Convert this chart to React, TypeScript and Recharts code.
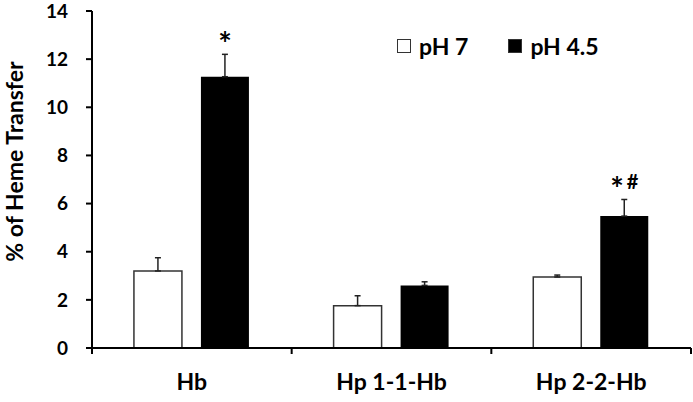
import React from 'react';
import { BarChart, Bar, XAxis, YAxis, ErrorBar, LabelList, Legend } from 'recharts';

const categories = ['Hb', 'Hp 1-1-Hb', 'Hp 2-2-Hb'];
const ph7 = [3.2, 1.76, 2.95];
const ph7Err = [0.55, 0.41, 0.08];
const ph45 = [11.27, 2.6, 5.48];
const ph45Err = [0.93, 0.15, 0.69];
const marks = ['*', '', '*#'];
const yTicks = [0, 2, 4, 6, 8, 10, 12, 14];
const seriesNames = ['pH 7', 'pH 4.5'];
const seriesFills = ['#ffffff', '#000000'];

const data = categories.map((name, i) => ({
  name,
  ph7: ph7[i],
  ph7Err: [0, ph7Err[i]],
  ph45: ph45[i],
  ph45Err: [0, ph45Err[i]],
  mark: marks[i],
}));

const FONT = 'Lato, "Open Sans", sans-serif';
const X_TICK_SIZE = 6;
const X_TICK_MARGIN = 20;

// category labels, plus tick marks on the category boundaries
const renderXTick = (props: any) => {
  const { x, y, payload, width, visibleTicksCount, index } = props;
  const step = width / visibleTicksCount;
  const axisY = y - X_TICK_SIZE - X_TICK_MARGIN;
  const left = x - step / 2;
  const right = x + step / 2;
  return (
    <g>
      <line x1={left} x2={left} y1={axisY} y2={axisY + X_TICK_SIZE} stroke="#000" strokeWidth={2} />
      {index === visibleTicksCount - 1 && (
        <line x1={right} x2={right} y1={axisY} y2={axisY + X_TICK_SIZE} stroke="#000" strokeWidth={2} />
      )}
      <text
        x={x}
        y={y}
        dy="0.71em"
        textAnchor="middle"
        fontFamily={FONT}
        fontWeight="bold"
        fontSize={23}
        fill="#000"
      >
        {payload.value}
      </text>
    </g>
  );
};

const renderMark = (props: any) => {
  const { x, y, width, height, value, index } = props;
  if (!value) return null;
  const perUnit = height / ph45[index];
  const top = y - ph45Err[index] * perUnit;
  const cx = x + width / 2;
  const star = value.includes('*');
  const hash = value.includes('#');
  return (
    <text
      x={cx}
      y={top + 2}
      textAnchor="middle"
      fontFamily={FONT}
      fontWeight="bold"
      fill="#000"
    >
      {star && <tspan fontSize={32}>*</tspan>}
      {hash && (
        <tspan fontSize={20} dx={3} dy={-12}>
          #
        </tspan>
      )}
    </text>
  );
};

const renderLegend = () => (
  <div style={{ display: 'flex', alignItems: 'center', fontFamily: FONT, fontWeight: 'bold', fontSize: 23, lineHeight: '26px' }}>
    {seriesNames.map((n, i) => (
      <div key={n} style={{ display: 'flex', alignItems: 'center', marginRight: i === 0 ? 40 : 0 }}>
        <span
          style={{
            display: 'inline-block',
            width: 12,
            height: 12,
            background: seriesFills[i],
            border: '1px solid #333',
            marginRight: 8,
          }}
        />
        <span>{n}</span>
      </div>
    ))}
  </div>
);

const renderYLabel = (props: any) => {
  const { viewBox } = props;
  const cy = viewBox.y + viewBox.height / 2 - 18;
  const x = 23;
  return (
    <text
      x={x}
      y={cy}
      transform={`rotate(-90, ${x}, ${cy})`}
      textAnchor="middle"
      fontFamily={FONT}
      fontWeight="bold"
      fontSize={23}
      fill="#000"
    >
      % of Heme Transfer
    </text>
  );
};

export default function App() {
  return (
    <div style={{ position: 'absolute', left: 0, top: 0, background: '#fff' }}>
      <BarChart
        width={693}
        height={402}
        data={data}
        margin={{ top: 11, right: 2, left: 0, bottom: 0 }}
        barCategoryGap="21%"
        barGap={19}
      >
        <XAxis
          dataKey="name"
          height={54}
          interval={0}
          axisLine={{ stroke: '#000', strokeWidth: 2 }}
          tickLine={false}
          tickSize={X_TICK_SIZE}
          tickMargin={X_TICK_MARGIN}
          tick={renderXTick}
        />
        <YAxis
          width={92}
          domain={[0, 14]}
          ticks={yTicks}
          interval={0}
          tickSize={6}
          tickMargin={18}
          axisLine={{ stroke: '#000', strokeWidth: 2 }}
          tickLine={{ stroke: '#000', strokeWidth: 2 }}
          tick={{ fill: '#000', fontFamily: FONT, fontWeight: 'bold', fontSize: 19 }}
          label={{ content: renderYLabel }}
        />
        <Legend
          layout="horizontal"
          align="center"
          verticalAlign="middle"
          content={renderLegend}
          wrapperStyle={{ top: 33, left: 397, width: 'auto' }}
        />
        <Bar dataKey="ph7" name="pH 7" fill="#ffffff" stroke="#333" strokeWidth={1.5} isAnimationActive={false}>
          <ErrorBar dataKey="ph7Err" direction="y" width={3} stroke="#222" strokeWidth={1.5} />
        </Bar>
        <Bar dataKey="ph45" name="pH 4.5" fill="#000000" isAnimationActive={false}>
          <ErrorBar dataKey="ph45Err" direction="y" width={3} stroke="#222" strokeWidth={1.5} />
          <LabelList dataKey="mark" content={renderMark} />
        </Bar>
      </BarChart>
    </div>
  );
}
